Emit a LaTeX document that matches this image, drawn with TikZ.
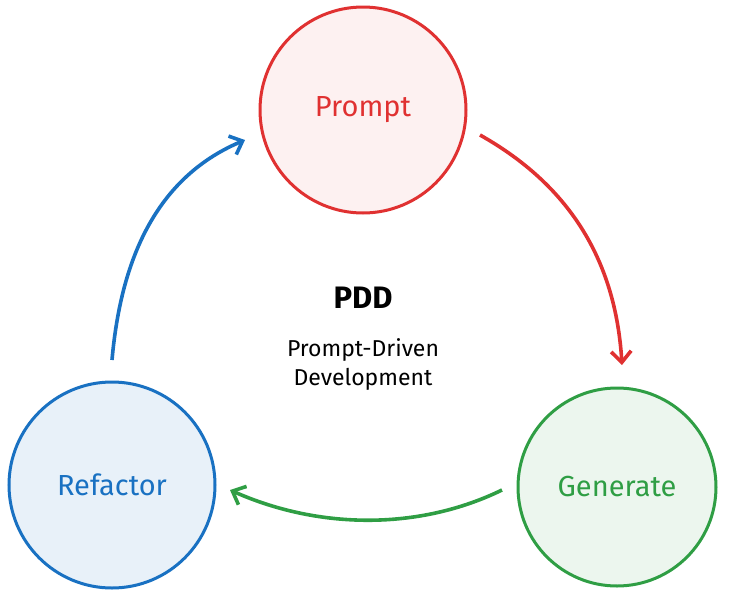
\documentclass[tikz,border=0pt]{standalone}
\usepackage{fontspec}
\setmainfont{Fira Sans}
\usetikzlibrary{arrows.meta}
\definecolor{pred}{HTML}{E03131}
\definecolor{pgreen}{HTML}{2F9E44}
\definecolor{pblue}{HTML}{1971C2}
\begin{document}
\begin{tikzpicture}[x=1pt,y=-1pt]
        \tikzstyle{phase}=[circle, line width=3pt, minimum size=206pt, font=\fontsize{29}{34}\selectfont]
        \tikzstyle{flow}=[line width=3.6pt, -{Straight Barb[length=11pt,width=20pt]}]
        \useasboundingbox (0,0) rectangle (737,600);
        \node [phase, draw=pred, fill=pred!7, text=pred] (prompt) at (363,110) {Prompt};
        \node [phase, draw=pgreen, fill=pgreen!9, text=pgreen, minimum size=198pt] (generate) at (617,487) {Generate};
        \node [phase, draw=pblue, fill=pblue!10, text=pblue] (refactor) at (112,485) {Refactor};
        \node [font=\fontsize{31}{36}\selectfont\bfseries] (pdd) at (363,298) {PDD};
        \node [font=\fontsize{23}{29}\selectfont, align=center] (sub) at (363,364) {Prompt-Driven\\Development};
        \draw [flow, pred] (480,135) .. controls (560,180) and (615,250) .. (622,365);
        \draw [flow, pgreen] (502,490) .. controls (420,530) and (320,530) .. (230,490);
        \draw [flow, pblue] (112,360) .. controls (120,270) and (150,180) .. (245,140);
\end{tikzpicture}
\end{document}
